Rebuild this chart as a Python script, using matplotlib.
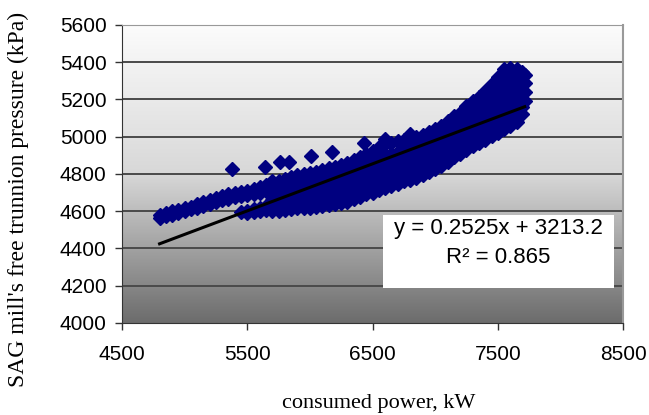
#!/usr/bin/env python

"""
plot.py - trunnion pressure against consumed power of the SAG mill
"""

import numpy as np
import matplotlib.pyplot as plt
from matplotlib.patches import Rectangle
from matplotlib.colors import LinearSegmentedColormap

# upper-left branch of the scatter (low power)
left_x = [4800, 4800, 4850, 4850, 4900, 4900, 4950, 4950, 5000, 5000,
          5050, 5050, 5100, 5100, 5150, 5150, 5200, 5200, 5250, 5250,
          5300, 5300, 5350, 5350, 5400, 5400, 5450, 5450, 5500, 5500,
          5550, 5550, 5600, 5600, 5650, 5650]
left_y = [4565, 4580, 4575, 4590, 4580, 4600, 4590, 4605, 4600, 4615,
          4610, 4625, 4620, 4640, 4630, 4650, 4640, 4660, 4650, 4670,
          4660, 4680, 4665, 4690, 4675, 4700, 4680, 4705, 4685, 4710,
          4690, 4720, 4700, 4730, 4710, 4740]

# lower branch that joins the main band
low_x = [5450, 5500, 5500, 5550, 5550, 5600, 5600, 5650, 5650]
low_y = [4595, 4590, 4600, 4595, 4610, 4600, 4620, 4605, 4630]

# main band, one column of readings per power value
band_cols = {
    5700: [4600, 4625, 4660, 4700, 4735, 4760],
    5750: [4600, 4630, 4665, 4705, 4740, 4765],
    5800: [4605, 4640, 4680, 4715, 4750, 4775],
    5850: [4610, 4645, 4690, 4725, 4760, 4785],
    5900: [4615, 4650, 4695, 4735, 4770, 4795],
    5950: [4615, 4655, 4700, 4740, 4775, 4800],
    6000: [4620, 4660, 4705, 4745, 4780, 4805],
    6050: [4625, 4665, 4710, 4750, 4790, 4810],
    6100: [4630, 4670, 4715, 4760, 4800, 4820],
    6150: [4635, 4675, 4720, 4765, 4805, 4830],
    6200: [4640, 4680, 4725, 4775, 4815, 4840],
    6250: [4645, 4690, 4735, 4780, 4820, 4850],
    6300: [4650, 4695, 4740, 4790, 4830, 4860],
    6350: [4665, 4705, 4750, 4795, 4840, 4875],
    6400: [4675, 4715, 4760, 4805, 4850, 4890],
    6450: [4690, 4730, 4770, 4815, 4860, 4905],
    6500: [4700, 4740, 4785, 4830, 4875, 4925],
    6550: [4715, 4755, 4800, 4845, 4890, 4945],
    6600: [4725, 4765, 4810, 4855, 4900, 4960, 4990],
    6650: [4735, 4775, 4820, 4865, 4910, 4965],
    6700: [4745, 4790, 4830, 4875, 4920, 4975],
    6750: [4760, 4800, 4845, 4890, 4935, 4985],
    6800: [4770, 4810, 4855, 4900, 4945, 4990, 5015],
    6850: [4780, 4820, 4865, 4910, 4955, 5000],
    6900: [4795, 4835, 4880, 4920, 4965, 5010],
    6950: [4810, 4850, 4890, 4935, 4975, 5025],
    7000: [4825, 4865, 4905, 4945, 4990, 5040],
    7050: [4845, 4880, 4920, 4960, 5000, 5055],
    7100: [4865, 4900, 4940, 4975, 5020, 5070, 5085],
    7150: [4890, 4925, 4960, 4995, 5040, 5090, 5110],
    7200: [4910, 4945, 4980, 5015, 5060, 5105, 5130],
    7250: [4930, 4965, 5000, 5035, 5080, 5125, 5165],
    7300: [4950, 4985, 5020, 5060, 5100, 5145, 5190],
    7350: [4965, 5000, 5040, 5080, 5125, 5170, 5215],
    7400: [4985, 5020, 5060, 5100, 5145, 5195, 5245],
    7450: [5005, 5040, 5080, 5120, 5165, 5215, 5260, 5285],
    7500: [5020, 5060, 5100, 5140, 5185, 5230, 5280, 5320],
    7550: [5040, 5075, 5115, 5160, 5205, 5250, 5300, 5345, 5365],
    7600: [5060, 5095, 5135, 5180, 5225, 5270, 5315, 5355, 5370],
    7650: [5080, 5115, 5155, 5200, 5245, 5290, 5335, 5365],
    7690: [5120, 5160, 5200, 5245, 5290, 5330, 5350],
    7715: [5190, 5240, 5290, 5330],
}

# stray readings above the band
out_x = [5380, 5645, 5760, 5830, 6005, 6180, 6430]
out_y = [4825, 4835, 4865, 4865, 4895, 4918, 4966]

# linear trend (from the fitted equation)
slope = 0.2525
intercept = 3213.2
r2 = 0.865

x_ticks = [4500, 5500, 6500, 7500, 8500]
y_ticks = [4000, 4200, 4400, 4600, 4800, 5000, 5200, 5400, 5600]

band_x = [x for x, ys in band_cols.items() for _ in ys]
band_y = [y for ys in band_cols.values() for y in ys]

xs = np.array(left_x + low_x + band_x + out_x, dtype=float)
ys = np.array(left_y + low_y + band_y + out_y, dtype=float)

fig = plt.figure(figsize=(6.49, 4.15), dpi=100)
ax = fig.add_axes([0.188, 0.2217, 0.772, 0.7181])

# grey gradient behind the plot
grad = np.linspace(0, 1, 256).reshape(-1, 1)
bg = LinearSegmentedColormap.from_list("bg", ["#fcfcfc", "#d8d8d8", "#6c6c6c"])
ax.imshow(grad, extent=[0, 1, 0, 1], transform=ax.transAxes, aspect="auto",
          cmap=bg, zorder=0)

for yv in y_ticks[1:-1]:
    ax.axhline(yv, color="#4a4a4a", lw=1.4, zorder=1)

ax.plot(xs, ys, "D", color="#000080", ms=7, mec="#000080", zorder=3)

tx = np.array([xs.min(), xs.max()])
ax.plot(tx, slope * tx + intercept, color="black", lw=2.2, zorder=4)

ax.add_patch(Rectangle((6580, 4190), 1850, 390, facecolor="white",
                       edgecolor="none", zorder=5))
ax.text(7505, 4509, "y = %.4fx + %.1f" % (slope, intercept), ha="center",
        va="center", fontsize=16, family="Liberation Sans", zorder=6)
ax.text(7505, 4353, "R\u00b2 = %.3f" % r2, ha="center", va="center",
        fontsize=16, family="Liberation Sans", zorder=6)

ax.set_xlim(4500, 8500)
ax.set_ylim(4000, 5600)
ax.set_xticks(x_ticks)
ax.set_yticks(y_ticks)
ax.tick_params(labelsize=15, length=5, width=1, color="#333333")
ax.tick_params(axis="x", pad=11)
ax.tick_params(axis="y", pad=6)
for lab in ax.get_xticklabels() + ax.get_yticklabels():
    lab.set_family("Liberation Sans")

ax.spines["left"].set_color("#333333")
ax.spines["bottom"].set_color("#333333")
ax.spines["top"].set_color("#999999")
ax.spines["right"].set_color("#999999")
ax.spines["right"].set_linewidth(1.5)

fig.text(0.029, 0.52, "SAG mill's free trunnion pressure (kPa)", rotation=90,
         ha="center", va="center", fontsize=17, family="Liberation Serif")
fig.text(0.584, 0.027, "consumed power, kW", ha="center", va="center",
         fontsize=16, family="Liberation Serif")

plt.savefig("out.png")
plt.close()
